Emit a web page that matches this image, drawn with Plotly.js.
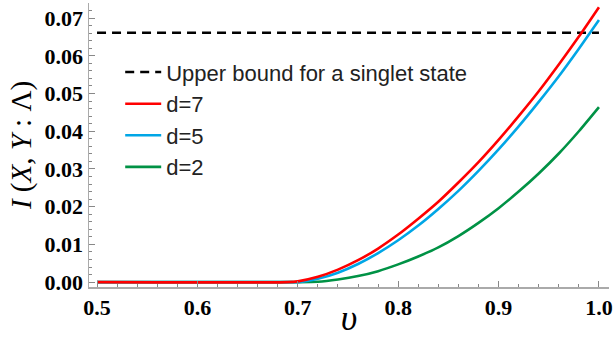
<!DOCTYPE html>
<html>
<head>
<meta charset="utf-8">
<script src="https://cdn.plot.ly/plotly-3.0.1.min.js"></script>
<style>
  html, body { margin: 0; padding: 0; background: #fff; }
  #chart { width: 614px; height: 338px; }
</style>
</head>
<body>
<div id="chart"></div>
<script>
// values
let v_values = [0.50, 0.69, 0.70, 0.72, 0.74, 0.76, 0.78, 0.80, 0.82, 0.84, 0.86, 0.88, 0.90, 0.92, 0.94, 0.96, 0.98, 1.00];
let d7_values = [0, 0, 0.0002, 0.0014, 0.0033, 0.0058, 0.0089, 0.0126, 0.0168, 0.0213, 0.0264, 0.0318, 0.0377, 0.0440, 0.0506, 0.0577, 0.0651, 0.0729];
let d5_values = [0, 0, 0, 0.0009, 0.0025, 0.0048, 0.0077, 0.0111, 0.0150, 0.0194, 0.0242, 0.0295, 0.0352, 0.0413, 0.0478, 0.0546, 0.0619, 0.0695];
let d2_values = [0, 0, 0, 0.0001, 0.0007, 0.0016, 0.0029, 0.0047, 0.0068, 0.0092, 0.0122, 0.0157, 0.0196, 0.0240, 0.0288, 0.0341, 0.0400, 0.0464];

let bound_x = [0.5, 1.0];
let bound_value = 0.0661;

let names = ['Upper bound for a singlet state', 'd=7', 'd=5', 'd=2'];

let div_chart = document.getElementById('chart');

let trace_bound = {
    type: 'scatter', mode: 'lines', name: names[0],
    x: bound_x, y: [bound_value, bound_value],
    line: {color: '#000000', width: 2.5, dash: '9px,6px'},
    legendgroup: 'a', legendrank: 1
};
let trace_d2 = {
    type: 'scatter', mode: 'lines', name: names[3],
    x: v_values, y: d2_values,
    line: {color: '#009245', width: 2.6, shape: 'spline', smoothing: 0.6},
    legendgroup: 'd', legendrank: 4
};
let trace_d5 = {
    type: 'scatter', mode: 'lines', name: names[2],
    x: v_values, y: d5_values,
    line: {color: '#00a6e6', width: 2.6, shape: 'spline', smoothing: 0.6},
    legendgroup: 'c', legendrank: 3
};
let trace_d7 = {
    type: 'scatter', mode: 'lines', name: names[1],
    x: v_values, y: d7_values,
    line: {color: '#ff0000', width: 2.6, shape: 'spline', smoothing: 0.6},
    legendgroup: 'b', legendrank: 2
};

let tick_font = {family: 'Liberation Serif', size: 22, weight: 'bold', color: '#000'};

let layout = {
    width: 614, height: 338,
    margin: {l: 89, r: 5, t: 3, b: 51},
    paper_bgcolor: '#ffffff',
    plot_bgcolor: '#ffffff',
    showlegend: true,
    legend: {
        x: 0.06, y: 0.83, xanchor: 'left', yanchor: 'top',
        bgcolor: 'rgba(0,0,0,0)',
        font: {family: 'Liberation Sans', size: 22, color: '#222'},
        itemwidth: 36,
        traceorder: 'grouped', tracegroupgap: 0
    },
    xaxis: {
        range: [0.492, 1.01],
        tick0: 0.5, dtick: 0.1, tickformat: '.1f',
        ticks: 'inside', ticklen: 6, tickcolor: '#888', tickwidth: 1,
        minor: {dtick: 0.02, ticks: 'inside', ticklen: 3, tickcolor: '#888'},
        showline: true, linecolor: '#aaa', linewidth: 1.5,
        showgrid: false, zeroline: false,
        tickfont: tick_font,
        title: {text: '<i>υ</i>', font: {family: 'Liberation Serif', size: 36, color: '#000'}, standoff: 0}
    },
    yaxis: {
        range: [-0.0013, 0.074],
        tick0: 0, dtick: 0.01, tickformat: '.2f',
        ticks: 'inside', ticklen: 6, tickcolor: '#888', tickwidth: 1,
        minor: {dtick: 0.002, ticks: 'inside', ticklen: 3, tickcolor: '#888'},
        showline: true, linecolor: '#aaa', linewidth: 1.5,
        showgrid: false, zeroline: false,
        tickfont: tick_font,
        title: {text: '<i>I</i> (<i>X</i>, <i>Y</i> : Λ)', font: {family: 'Liberation Serif', size: 29, color: '#000'}, standoff: 4}
    }
};

Plotly.newPlot(div_chart, [trace_bound, trace_d2, trace_d5, trace_d7], layout, {staticPlot: true});
</script>
</body>
</html>
